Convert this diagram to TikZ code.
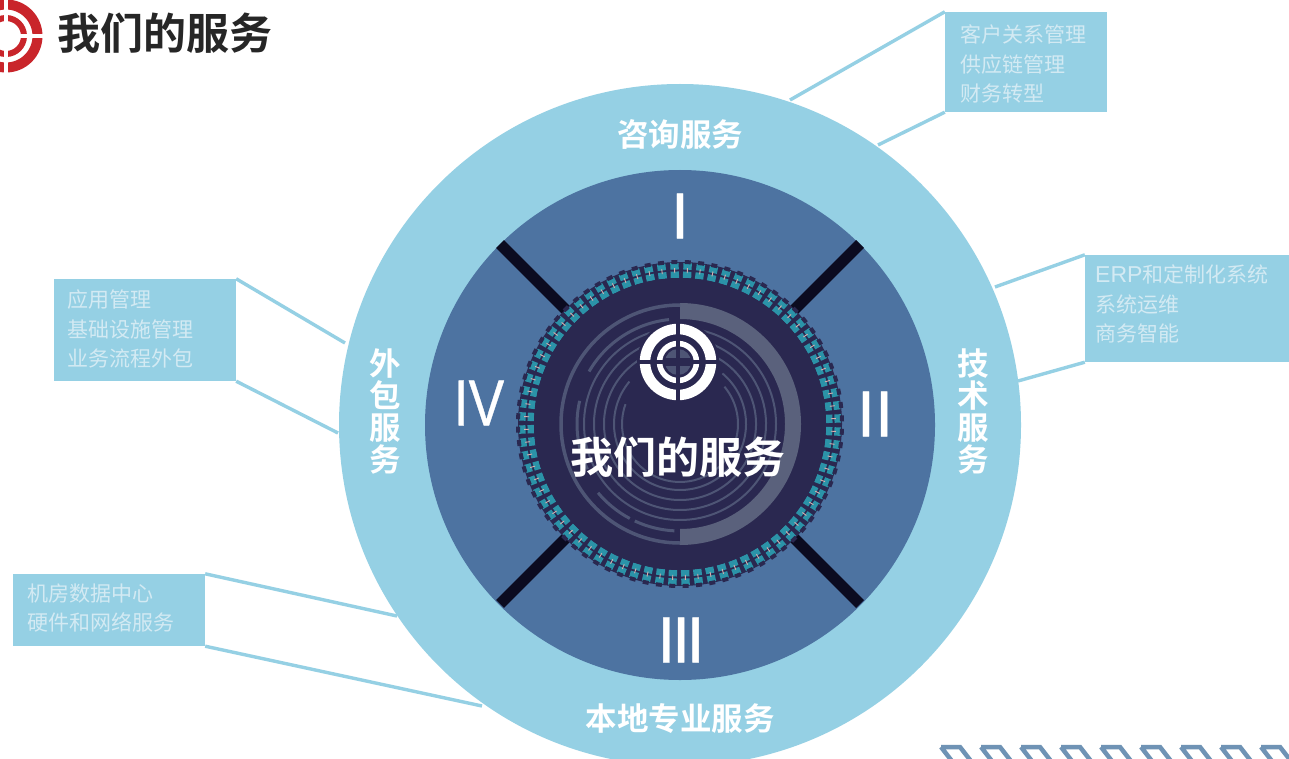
\documentclass[tikz,border=0pt]{standalone}
\usepackage{fontspec}
\setmainfont{Noto Sans CJK SC}
\newfontfamily\latinfont{Liberation Sans}
\newfontfamily\numfont[FakeBold=0.6]{Liberation Sans}
\newfontfamily\cjkbold{Noto Sans CJK SC Bold}
\definecolor{sky}{HTML}{95D0E4}
\definecolor{midblue}{HTML}{4D73A1}
\definecolor{navy}{HTML}{2A2850}
\definecolor{ink}{HTML}{0B0B20}
\definecolor{teal}{HTML}{2B93A8}
\definecolor{ringg}{HTML}{4E5575}
\definecolor{ringl}{HTML}{5A617C}
\definecolor{paleTxt}{HTML}{D3EAF3}
\definecolor{logored}{HTML}{C9252B}
\definecolor{stripe}{HTML}{6F93B5}
\tikzset{
  infobox/.style={fill=sky,draw=none,inner sep=0pt},
  infotext/.style={anchor=west,inner sep=0pt,text=paleTxt,align=left,font=\fontsize{21}{29.5}\selectfont},
  link/.style={draw=sky,line width=3.4pt},
  bigw/.style={text=white,inner sep=0pt,align=center,font=\cjkbold\fontsize{31.5}{32}\selectfont},
  numeral/.style={text=white,inner sep=0pt,font=\numfont\fontsize{65}{65}\selectfont},
  bar/.style={draw=ink,line width=11pt},
}
\begin{document}
\begin{tikzpicture}[x=1pt,y=1pt]
\clip (0,0) rectangle (1289,-759);
\fill[white] (0,0) rectangle (1289,-759);

% info boxes
\node[infobox,minimum width=162pt,minimum height=100pt] (b1) at (1026,-62) {};
\node[infobox,minimum width=204pt,minimum height=107pt] (b2) at (1187,-308.5) {};
\node[infobox,minimum width=182pt,minimum height=102pt] (b3) at (145,-330) {};
\node[infobox,minimum width=192pt,minimum height=72pt] (b4) at (109,-610) {};

% connector free ends
\coordinate (c1a) at (790,-100);
\coordinate (c1b) at (878,-145);
\coordinate (c2a) at (995,-287);
\coordinate (c2b) at (1018,-381);
\coordinate (c3a) at (345,-343);
\coordinate (c3b) at (338,-433);
\coordinate (c4a) at (397,-616);
\coordinate (c4b) at (482,-706);
\draw[link] (b1.north west) -- (c1a);
\draw[link] (b1.south west) -- (c1b);
\draw[link] (b2.north west) -- (c2a);
\draw[link] (b2.south west) -- (c2b);
\draw[link] (b3.north east) -- (c3a);
\draw[link] (b3.south east) -- (c3b);
\draw[link] (b4.north east) -- (c4a);
\draw[link] (b4.south east) -- (c4b);

% box texts
\node[infotext] (t1) at (960,-64) {客户关系管理\\供应链管理\\财务转型};
\node[infotext] (t2) at (1095,-304) {{\latinfont\fontsize{23}{29.5}\selectfont ERP}和定制化系统\\系统运维\\商务智能};
\node[infotext] (t3) at (67,-329) {应用管理\\基础设施管理\\业务流程外包};
\node[infotext] (t4) at (27,-608) {机房数据中心\\硬件和网络服务};

% main disks
\fill[sky] (680,-425) circle (341);
\fill[midblue] (680,-425) circle (255);

% dividers
\coordinate (d1) at (500,-244);
\coordinate (d1e) at (570,-314);
\coordinate (d2) at (860,-244);
\coordinate (d2e) at (790,-314);
\coordinate (d3) at (500,-604);
\coordinate (d3e) at (570,-534);
\coordinate (d4) at (860,-604);
\coordinate (d4e) at (790,-534);
\draw[bar] (d1) -- (d1e);
\draw[bar] (d2) -- (d2e);
\draw[bar] (d3) -- (d3e);
\draw[bar] (d4) -- (d4e);

% centre
\begin{scope}[shift={(680,-424)}]
  \fill[navy] (0,0) circle (162);
  \foreach \i in {0,...,75}{
    \pgfmathsetmacro{\a}{\i*4.7368+2}
    \begin{scope}[rotate=\a]
      \fill[teal] (154.5,-4.2) rectangle (161,4.2);
      \fill[teal] (146,-4.2) rectangle (152.5,4.2);
      \fill[navy] (160,-3) rectangle (164,3);
      \draw[line width=0.9pt,draw=pink!70!gray] (151,0) -- (156,0);
    \end{scope}
  }
  \fill[navy] (0,0) circle (146);
  % thick right half
  \fill[ringl] (0,121) arc[start angle=90,end angle=-90,radius=121] -- (0,-105) arc[start angle=-90,end angle=90,radius=105] -- cycle;
  % left outer thin
  \draw[ringg,line width=3.5pt] (90:119) arc[start angle=90,end angle=270,radius=119];
  % segments r=105
  \foreach \r/\s/\e in {105/96/150,103/167/206,107/220/242,107/245/267}{
    \draw[ringg,line width=3pt] (\s:\r) arc[start angle=\s,end angle=\e,radius=\r];
  }
  % inner rings
  \foreach \r/\s/\e in {96/-270/80,86/-260/70,76/-240/60,66/-220/50,58/-200/40}{
    \draw[ringg,line width=2pt] (\s:\r) arc[start angle=\s,end angle=\e,radius=\r];
  }
\end{scope}

% central logo
\begin{scope}[shift={(678,-362)}]
  \fill[navy] (0,0) circle (41);
  \fill[ringg] (0,0) circle (13);
  \draw[navy,line width=1.5pt] (-13,3) -- (13,3) (-13,-3) -- (13,-3);
  \draw[white,line width=10.5pt] (0,0) circle (33);
  \draw[white,line width=5.5pt] (0,0) circle (18.5);
  \draw[navy,line width=4pt] (0,-41) -- (0,41) (-41,0) -- (41,0);
\end{scope}

% numerals
\node[numeral] (n1) at (680,-216) {I};
\node[numeral] (n2) at (875,-414) {II};
\node[numeral] (n3) at (681,-640) {I\kern-3.5pt I\kern-3.5pt I};
\node[numeral,xscale=0.82] (n4) at (479,-403) {IV};

% labels
\node[bigw] (l1) at (680,-134) {咨询服务};
\node[bigw] (l3) at (680,-719) {本地专业服务};
\node[bigw] (l2) at (973,-411) {技\\术\\服\\务};
\node[bigw] (l4) at (385,-411) {外\\包\\服\\务};
\node[text=white,inner sep=0pt,font=\cjkbold\fontsize{43}{43}\selectfont] (cc) at (678,-457) {我们的服务};

% corner logo and title
\begin{scope}[shift={(6,-36)}]
  \draw[logored,line width=10pt] (0,0) circle (31.5);
  \draw[logored,line width=6pt] (0,0) circle (18);
  \draw[white,line width=3.5pt] (0,-42) -- (0,42) (-42,0) -- (42,0);
\end{scope}
\node[text=black!85,inner sep=0pt,font=\cjkbold\fontsize{43}{43}\selectfont] (title) at (165,-33) {我们的服务};

% bottom-right stripe pattern
\foreach \k in {0,...,8}{
  \draw[stripe,line width=4.5pt] ({941+40*\k},-747) -- ({955+40*\k},-765)
        ({941+40*\k},-747) -- ({960+40*\k},-747) -- ({974+40*\k},-765);
}
\end{tikzpicture}
\end{document}
